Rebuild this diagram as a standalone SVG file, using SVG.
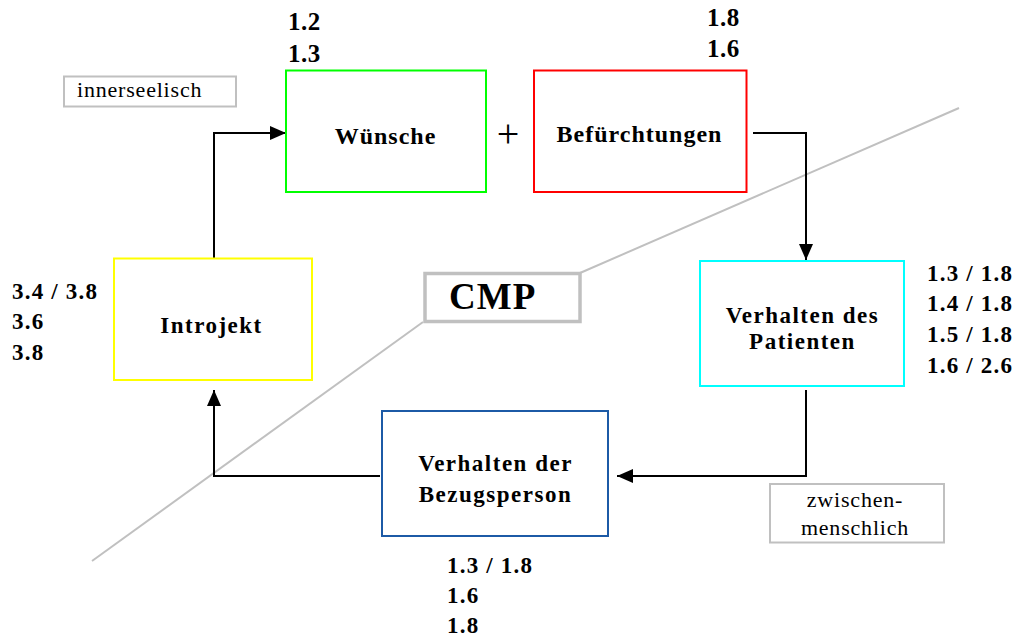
<svg xmlns="http://www.w3.org/2000/svg" width="1017" height="637" viewBox="0 0 1017 637">
<defs>
<marker id="ah" markerUnits="userSpaceOnUse" markerWidth="16" markerHeight="14" refX="16" refY="7" orient="auto">
<path d="M0,0 L16,7 L0,14 Z" fill="#000"/>
</marker>
<style>
.box{fill:#fff;stroke-width:2}
.t{font-family:"Liberation Serif","Times New Roman",serif;font-weight:bold;font-size:23px;letter-spacing:1.5px;fill:#000;text-anchor:middle}
.big{font-size:24px;letter-spacing:1px}
.num{font-family:"Liberation Serif","Times New Roman",serif;font-weight:bold;font-size:23px;letter-spacing:1.2px;fill:#000}
.numtop{font-size:25px;letter-spacing:0.5px}
.lab{font-family:"Liberation Serif","Times New Roman",serif;font-size:22px;letter-spacing:0.8px;fill:#000}
.gbox{fill:#fff;stroke:#c0c0c0;stroke-width:2}
.conn{fill:none;stroke:#000;stroke-width:2}
.sep{stroke:#c0c0c0;stroke-width:2;fill:none}
</style>
</defs>
<rect width="1017" height="637" fill="#fff"/>

<g id="separator">
<line class="sep" x1="92" y1="561" x2="423" y2="322"/>
<line class="sep" x1="580" y1="273" x2="959" y2="108"/>
</g>

<g id="connectors">
<path class="conn" d="M214,258 V133 H286" marker-end="url(#ah)"/>
<path class="conn" d="M753,133 H806 V260" marker-end="url(#ah)"/>
<path class="conn" d="M806,390 V476 H617" marker-end="url(#ah)"/>
<path class="conn" d="M380,476 H214 V390" marker-end="url(#ah)"/>
</g>

<g id="wuensche">
<rect class="box" x="286" y="70.5" width="200" height="121.5" stroke="#00ff00"/>
<text class="t big" x="385.5" y="144">Wünsche</text>
<text class="num numtop" x="288" y="30">1.2</text>
<text class="num numtop" x="288" y="62">1.3</text>
</g>

<g id="plus">
<text x="508" y="147" font-family="Liberation Serif, serif" font-size="40" text-anchor="middle" fill="#000">+</text>
</g>

<g id="befuerchtungen">
<rect class="box" x="534" y="70.5" width="212.5" height="121.5" stroke="#ff0000"/>
<text class="t big" x="639.5" y="142">Befürchtungen</text>
<text class="num numtop" x="707" y="26">1.8</text>
<text class="num numtop" x="707" y="57">1.6</text>
</g>

<g id="patient">
<rect class="box" x="700" y="261" width="204" height="125" stroke="#00ffff"/>
<text class="t" x="802.5" y="323">Verhalten des</text>
<text class="t" x="802.5" y="348.5">Patienten</text>
<text class="num" x="927" y="281">1.3 / 1.8</text>
<text class="num" x="927" y="311">1.4 / 1.8</text>
<text class="num" x="927" y="342">1.5 / 1.8</text>
<text class="num" x="927" y="373">1.6 / 2.6</text>
</g>

<g id="bezugsperson">
<rect class="box" x="382" y="411" width="226" height="125" stroke="#1c5aa6"/>
<text class="t" x="495.5" y="471">Verhalten der</text>
<text class="t" x="495.5" y="502">Bezugsperson</text>
<text class="num" x="447" y="573">1.3 / 1.8</text>
<text class="num" x="447" y="603">1.6</text>
<text class="num" x="447" y="633">1.8</text>
</g>

<g id="introjekt">
<rect class="box" x="114" y="258.5" width="198" height="121.5" stroke="#ffff00"/>
<text class="t" x="211.5" y="333">Introjekt</text>
<text class="num" x="12" y="299">3.4 / 3.8</text>
<text class="num" x="12" y="329">3.6</text>
<text class="num" x="12" y="360">3.8</text>
</g>

<g id="cmp">
<rect x="425" y="273.5" width="155" height="48" fill="#fff" stroke="#c0c0c0" stroke-width="3.5"/>
<text x="449" y="309" font-family="Liberation Serif, serif" font-weight="bold" font-size="37" letter-spacing="1" fill="#000">CMP</text>
</g>

<g id="innerseelisch">
<rect class="gbox" x="64" y="76.5" width="172" height="30"/>
<text class="lab" x="77" y="97">innerseelisch</text>
</g>

<g id="zwischenmenschlich">
<rect class="gbox" x="770" y="484" width="174" height="58.5"/>
<text class="lab" x="855" y="506.5" text-anchor="middle">zwischen-</text>
<text class="lab" x="855" y="535" text-anchor="middle">menschlich</text>
</g>
</svg>
